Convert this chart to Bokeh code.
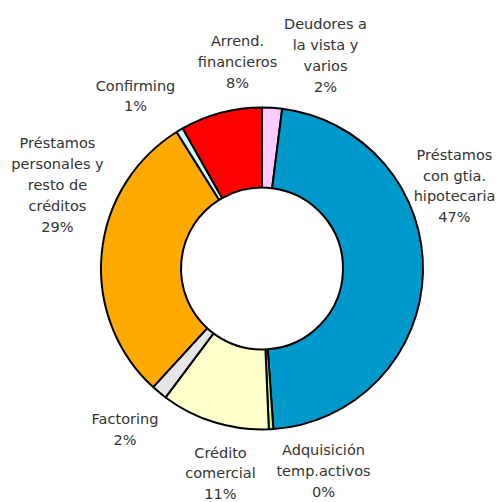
import math
from bokeh.plotting import figure
from bokeh.models import Range1d, ColumnDataSource
from bokeh.core.properties import value
from bokeh.embed import file_html
from bokeh.resources import INLINE

# ---- data (clockwise from 12 o'clock) ----
categories = [
    "Deudores a\nla vista y\nvarios",
    "Préstamos\ncon gtia.\nhipotecaria",
    "Adquisición\ntemp.activos",
    "Crédito\ncomercial",
    "Factoring",
    "Préstamos\npersonales y\nresto de\ncréditos",
    "Confirming",
    "Arrend.\nfinancieros",
]
shares = [2.0, 46.9, 0.45, 10.9, 1.6, 29.3, 0.7, 8.2]
colors = ["#FFCCFF", "#0099CC", "#CCFF66", "#FFFFCC", "#E6E6E6", "#FFAA00", "#CCFFFF", "#FF0000"]

# ---- layout (page pixel space, y flipped to point up) ----
W, H = 497, 502
CX, CY = 261.5, H - 268
R_OUT, R_IN = 161, 81
# label block centres, offset from donut centre (px, y up)
label_dx = [63.5, 192.5, 61.5, -41.5, -137, -204.5, -126.5, -24.5]
label_dy = [213, 82.5, -202.5, -205, -161, 83.5, 172.5, 206.5]

total = sum(shares)
starts, ends, cum = [], [], 0.0
for s in shares:
    starts.append(math.pi / 2 - 2 * math.pi * cum / total)
    cum += s
    ends.append(math.pi / 2 - 2 * math.pi * cum / total)

texts = [f"{c}\n{round(s * 100 / total):d}%" for c, s in zip(categories, shares)]

wedges = ColumnDataSource(dict(start=starts, end=ends, color=colors))
labels = ColumnDataSource(dict(
    x=[CX + d for d in label_dx],
    y=[CY + d for d in label_dy],
    text=texts,
))

p = figure(width=W, height=H, output_backend="svg", toolbar_location=None,
           x_range=Range1d(0, W), y_range=Range1d(0, H),
           min_border=0)
p.axis.visible = False
p.grid.visible = False
p.outline_line_color = None
p.background_fill_color = "white"

p.annular_wedge(x=CX, y=CY, inner_radius=R_IN, outer_radius=R_OUT,
                start_angle="start", end_angle="end", direction="clock",
                fill_color="color", line_color="black", line_width=2,
                source=wedges)

p.text(x="x", y="y", text="text", source=labels,
       text_font=value("DejaVu Sans"), text_font_size="14.5px",
       text_color="#333333", text_align="center", text_baseline="middle",
       text_line_height=1.3)

open("out.html", "w").write(file_html(p, INLINE))
